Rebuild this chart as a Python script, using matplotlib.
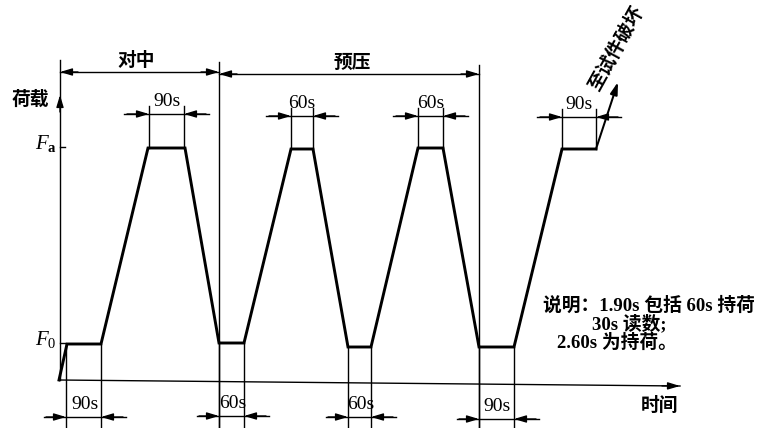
import matplotlib
matplotlib.use('Agg')
import matplotlib.pyplot as plt

plt.rcParams['mathtext.fontset'] = 'custom'
plt.rcParams['mathtext.rm'] = 'Liberation Serif'
plt.rcParams['mathtext.it'] = 'Liberation Serif:italic'
plt.rcParams['mathtext.bf'] = 'Liberation Serif:bold'

# ---- data (schematic drawing units: time along x, load along y, y grows downward) ----
path_t = [59, 67, 101, 148, 185, 219, 244, 291, 313, 348, 371, 418, 443, 479, 514, 562, 596]
path_load = [380, 344, 344, 148, 148, 343, 343, 149, 149, 347, 347, 148, 148, 347, 347, 149, 149]
final_t = [596, 618]
final_load = [149, 82]

stage_labels = ['对中', '预压']
stage_start = [60, 219]
stage_end = [219, 479]
stage_y = [72, 74]
stage_top = [62, 65]

hold_top_labels = ['90s', '60s', '60s', '90s']
hold_top_x0 = [149, 291, 418, 562]
hold_top_x1 = [184, 313, 443, 596]
hold_top_y = [114, 116, 116, 117]
hold_top_level = [148, 149, 148, 149]

hold_bot_labels = ['90s', '60s', '60s', '90s']
hold_bot_x0 = [66, 219, 348, 479]
hold_bot_x1 = [101, 244, 371, 514]
hold_bot_y = [417, 416, 417, 419]
hold_bot_level = [344, 343, 347, 347]

level_labels = [r'$F_{\mathbf{a}}$', r'$F_{0}$']
level_y = [147, 343]

note_lines = ['说明：1.90s 包括 60s 持荷', '30s 读数;', '2.60s 为持荷。']
note_x = [543, 592, 557]
note_y = [306, 324, 343]

CJK = ['Liberation Serif', 'Noto Sans CJK SC']

fig = plt.figure(figsize=(7.63, 4.28), dpi=100)
ax = fig.add_axes([0, 0, 1, 1])
ax.set_xlim(0, 763)
ax.set_ylim(428, 0)
ax.axis('off')

THIN = 1.0
THICK = 2.1
AS = '-|>,head_length=0.6,head_width=0.18'
FS_CJK = 13.5
FS_NUM = 14


def arrow(tip, tail, ms=12, lw=THIN):
    ax.annotate('', xy=tip, xytext=tail,
                arrowprops=dict(arrowstyle=AS, color='black', lw=lw,
                                shrinkA=0, shrinkB=0, mutation_scale=ms))


# axes
ax.plot([60, 60], [380, 60], color='black', lw=THIN)
arrow((60, 95), (60, 112))
ax.plot([59, 680], [380, 386], color='black', lw=THIN)
arrow((680, 386), (662, 385.85))
ax.text(30, 99, '荷载', ha='center', va='center', fontsize=FS_CJK,
        family='Noto Sans CJK SC', weight='bold')
ax.text(660, 405, '时间', ha='center', va='center', fontsize=FS_CJK,
        family='Noto Sans CJK SC', weight='bold')

# level ticks and labels
for lab, y in zip(level_labels, level_y):
    ax.plot([60, 65], [y, y], color='black', lw=THIN)
    ax.text(57, y - 3, lab, ha='right', va='center', fontsize=15)

# load path
ax.plot(path_t, path_load, color='black', lw=THICK, solid_joinstyle='miter')
arrow((final_t[1], final_load[1]), (final_t[0], final_load[0]), lw=THICK * 0.7)
ax.text(616, 48, '至试件破坏', rotation=61, ha='center', va='center', fontsize=FS_CJK,
        family='Noto Sans CJK SC', weight='bold', rotation_mode='anchor')

# stage dimensions
for i, (lab, x0, x1, y) in enumerate(zip(stage_labels, stage_start, stage_end, stage_y)):
    ax.plot([x0, x1], [y, y], color='black', lw=THIN)
    arrow((x0, y), (x0 + 18, y))
    arrow((x1, y), (x1 - 18, y))
    ax.text((x0 + x1) / 2 + (-3 if i == 0 else 3), y - 12, lab,
            ha='center', va='center', fontsize=FS_CJK, family='Noto Sans CJK SC', weight='bold')
# stage boundary lines
for xb, top in zip(stage_end, stage_top):
    ax.plot([xb, xb], [top, 428], color='black', lw=THIN)

# hold dimensions on top
for lab, x0, x1, y, lev in zip(hold_top_labels, hold_top_x0, hold_top_x1, hold_top_y, hold_top_level):
    ax.plot([x0, x0], [lev, y - 8], color='black', lw=THIN)
    ax.plot([x1, x1], [lev, y - 8], color='black', lw=THIN)
    ax.plot([x0 - 25, x1 + 25], [y, y], color='black', lw=THIN)
    arrow((x0, y), (x0 - 22, y))
    arrow((x1, y), (x1 + 22, y))
    ax.text((x0 + x1) / 2, y - 4, lab, ha='center', va='bottom', fontsize=FS_NUM,
            family='Liberation Serif')

# hold dimensions at bottom
for lab, x0, x1, y, lev in zip(hold_bot_labels, hold_bot_x0, hold_bot_x1, hold_bot_y, hold_bot_level):
    ax.plot([x0, x0], [lev, 428], color='black', lw=THIN)
    ax.plot([x1, x1], [lev, 428], color='black', lw=THIN)
    ax.plot([x0 - 22, x1 + 25], [y, y], color='black', lw=THIN)
    arrow((x0, y), (x0 - 20, y))
    arrow((x1, y), (x1 + 22, y))
    ax.text((x0 + x1) / 2 + 1, y - 4, lab, ha='center', va='bottom', fontsize=FS_NUM,
            family='Liberation Serif')

# note
for line, x, y in zip(note_lines, note_x, note_y):
    ax.text(x, y, line, ha='left', va='center', fontsize=FS_CJK, family=CJK, weight='bold')

fig.savefig('out.png', dpi=100, facecolor='white')
